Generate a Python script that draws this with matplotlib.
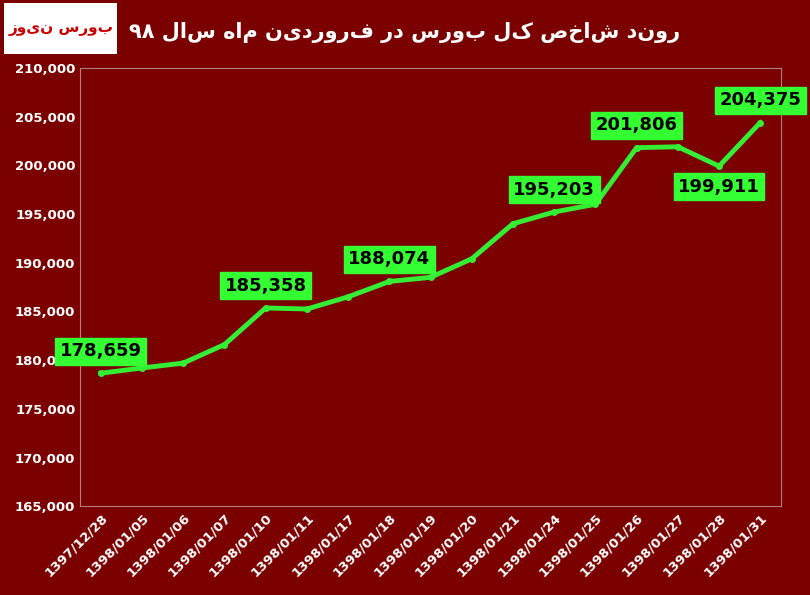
import matplotlib
matplotlib.use("Agg")
import matplotlib.pyplot as plt
from matplotlib.ticker import FuncFormatter

dates = ["1397/12/28","1398/01/05","1398/01/06","1398/01/07","1398/01/10","1398/01/11",
         "1398/01/17","1398/01/18","1398/01/19","1398/01/20","1398/01/21","1398/01/24",
         "1398/01/25","1398/01/26","1398/01/27","1398/01/28","1398/01/31"]
values = [178659,179200,179700,181600,185358,185250,186500,188074,188500,190400,
          194000,195203,196000,201806,201900,199911,204375]
labeled = [0,4,7,11,13,15,16]
label_offsets = [16,16,16,16,16,-15,16]

bg = "#7B0000"
fig = plt.figure(figsize=(8.1,5.95), dpi=100, facecolor=bg)
ax = fig.add_axes([0.099,0.149,0.865,0.737], facecolor=bg)
x = list(range(len(dates)))
ax.plot(x, values, color="#33ee33", lw=3.5, marker="o", ms=4, zorder=3)
for i, off in zip(labeled, label_offsets):
    ax.annotate(f"{values[i]:,}", (x[i], values[i]), xytext=(0, off), textcoords="offset points",
                ha="center", va="center", fontsize=13, fontweight="bold", color="black",
                bbox=dict(boxstyle="square,pad=0.25", fc="#33ff33", ec="#33ff33"), zorder=4)
ax.set_xlim(-0.5, len(dates)-0.5)
ax.set_ylim(165000, 210000)
ax.set_yticks(range(165000, 210001, 5000))
ax.yaxis.set_major_formatter(FuncFormatter(lambda v, p: f"{int(v):,}"))
ax.set_xticks(x)
ax.set_xticklabels(dates, rotation=45, ha="right", rotation_mode="anchor")
ax.tick_params(colors="white", labelsize=9.5, length=0)
for lab in ax.get_xticklabels() + ax.get_yticklabels():
    lab.set_fontweight("bold")
for s in ax.spines.values():
    s.set_color("#b08080")
title = "۹۸ " + "روند شاخص کل بورس در فروردین ماه سال"[::-1]
fig.text(0.5, 0.945, title, color="white",
         fontsize=15, fontweight="bold", ha="center", va="center", family=["DejaVu Sans"])
fig.patches.append(plt.Rectangle((0.005,0.91),0.14,0.085, transform=fig.transFigure, fc="white", ec="none"))
fig.text(0.075, 0.952, "بورس نیوز"[::-1], color="#cc0000", fontsize=11, fontweight="bold",
         ha="center", va="center", family=["DejaVu Sans"])
fig.savefig("out.png", facecolor=bg)
